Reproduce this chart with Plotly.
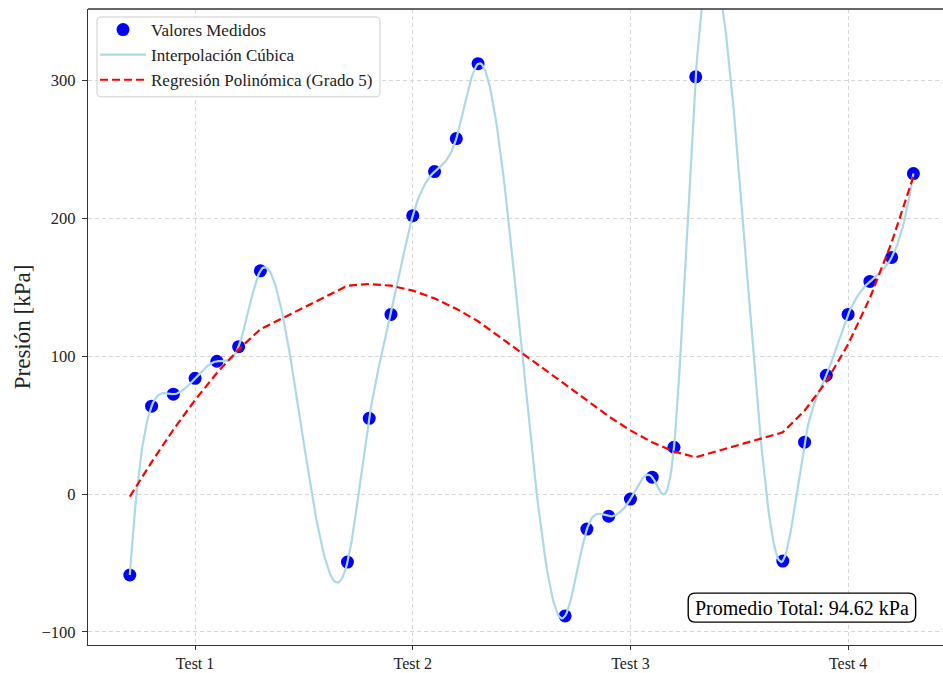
import numpy as np
import plotly.graph_objects as go

# ---- data ----
x_vals = [0.7, 0.8, 0.9, 1.0, 1.1, 1.2, 1.3,
          1.7, 1.8, 1.9, 2.0, 2.1, 2.2, 2.3,
          2.7, 2.8, 2.9, 3.0, 3.1, 3.2, 3.3,
          3.7, 3.8, 3.9, 4.0, 4.1, 4.2, 4.3]
pressures = [-58.7, 63.8, 72.5, 84.0, 96.4, 107.0, 162.0,
             -49.3, 55.0, 130.4, 202.0, 234.0, 258.0, 312.3,
             -88.4, -25.4, -16.0, -3.6, 12.3, 34.0, 302.8,
             -48.6, 37.7, 86.2, 130.4, 154.3, 171.7, 232.6]
tick_vals = [1, 2, 3, 4]
tick_labels = ["Test 1", "Test 2", "Test 3", "Test 4"]
y_tick_vals = [-100, 0, 100, 200, 300]
y_tick_labels = ["\u2212100", "0", "100", "200", "300"]

x = np.array(x_vals)
y = np.array(pressures)


def not_a_knot_spline(xk, yk, xs):
    n = len(xk)
    h = np.diff(xk)
    A = np.zeros((n, n))
    b = np.zeros(n)
    A[0, 0] = h[1]
    A[0, 1] = -(h[0] + h[1])
    A[0, 2] = h[0]
    A[-1, -3] = h[-1]
    A[-1, -2] = -(h[-2] + h[-1])
    A[-1, -1] = h[-2]
    for i in range(1, n - 1):
        A[i, i - 1] = h[i - 1]
        A[i, i] = 2 * (h[i - 1] + h[i])
        A[i, i + 1] = h[i]
        b[i] = 6 * ((yk[i + 1] - yk[i]) / h[i] - (yk[i] - yk[i - 1]) / h[i - 1])
    M = np.linalg.solve(A, b)
    idx = np.clip(np.searchsorted(xk, xs) - 1, 0, n - 2)
    x0 = xk[idx]
    x1 = xk[idx + 1]
    hh = x1 - x0
    t0 = x1 - xs
    t1 = xs - x0
    return (M[idx] * t0 ** 3 / (6 * hh) + M[idx + 1] * t1 ** 3 / (6 * hh)
            + (yk[idx] / hh - M[idx] * hh / 6) * t0
            + (yk[idx + 1] / hh - M[idx + 1] * hh / 6) * t1)


xs = np.linspace(x.min(), x.max(), 600)
ys = not_a_knot_spline(x, y, xs)

coef = np.polyfit(x, y, 5)
y_poly = np.polyval(coef, x)

mean_val = y.mean()

FONT = "Liberation Serif"
TXT = "#222222"

fig = go.Figure()
fig.add_trace(go.Scatter(x=x, y=y, mode="markers", name="Valores Medidos",
                         marker=dict(color="#0000ff", size=13, line=dict(width=0))))
fig.add_trace(go.Scatter(x=xs, y=ys, mode="lines", name="Interpolación Cúbica",
                         line=dict(color="#add8e6", width=2.2)))
fig.add_trace(go.Scatter(x=x, y=y_poly, mode="lines", name="Regresión Polinómica (Grado 5)",
                         line=dict(color="#ff0000", width=2.2, dash="8px,4px")))


def rounded_path(x0, x1, y0, y1, rx, ry):
    return (f"M {x0+rx},{y0} L {x1-rx},{y0} Q {x1},{y0} {x1},{y0+ry} "
            f"L {x1},{y1-ry} Q {x1},{y1} {x1-rx},{y1} "
            f"L {x0+rx},{y1} Q {x0},{y1} {x0},{y1-ry} "
            f"L {x0},{y0+ry} Q {x0},{y0} {x0+rx},{y0} Z")


# legend frame
fig.add_shape(type="path", path=rounded_path(0.0105, 0.3415, 0.8619, 0.9874, 0.005, 0.0066),
              xref="paper", yref="paper", line=dict(color="#cccccc", width=1),
              fillcolor="rgba(255,255,255,0.85)", layer="above")

# rounded text box (bottom right)
bx0, bx1, by0, by1 = 0.702, 0.968, 0.036, 0.0816
fig.add_shape(type="path", path=rounded_path(bx0, bx1, by0, by1, 0.008, 0.011),
              xref="paper", yref="paper",
              line=dict(color="black", width=1.4), fillcolor="white", layer="above")
fig.add_annotation(x=(bx0 + bx1) / 2, y=(by0 + by1) / 2, xref="paper", yref="paper",
                   text=f"Promedio Total: {mean_val:.2f} kPa",
                   showarrow=False, font=dict(family=FONT, size=20, color="black"),
                   xanchor="center", yanchor="middle")

axis_common = dict(showline=True, linecolor="#333333", linewidth=1.3, mirror=False,
                   showgrid=True, gridcolor="#d6d6d6", griddash="4px,3px", gridwidth=1,
                   ticks="outside", tickcolor="#333333", zeroline=False)

fig.update_layout(
    width=943, height=673,
    margin=dict(l=88, r=0, t=9, b=28, autoexpand=False),
    plot_bgcolor="white", paper_bgcolor="white",
    font=dict(family=FONT),
    xaxis=dict(range=[0.508, 4.436], tickvals=tick_vals, ticktext=tick_labels,
               ticklen=4, tickfont=dict(family=FONT, size=16, color=TXT), **axis_common),
    yaxis=dict(range=[-109.5, 352], tickvals=y_tick_vals, ticktext=y_tick_labels,
               ticklen=5, ticklabelstandoff=3,
               tickfont=dict(family=FONT, size=16.5, color=TXT),
               title=dict(text="Presión [kPa]", font=dict(family=FONT, size=23, color=TXT),
                          standoff=4),
               **axis_common),
    legend=dict(x=0.0082, y=0.9953, xanchor="left", yanchor="top",
                bgcolor="rgba(0,0,0,0)", borderwidth=0,
                font=dict(family=FONT, size=17, color=TXT), tracegroupgap=0,
                itemwidth=46),
    showlegend=True,
)
fig.add_shape(type="line", xref="paper", yref="paper", x0=0, x1=1, y0=1, y1=1,
              line=dict(color="#333333", width=1.3))

fig.write_html("out.html", config={"displayModeBar": False},
               post_script="document.body.style.margin='0px';document.body.style.overflow='hidden';")
